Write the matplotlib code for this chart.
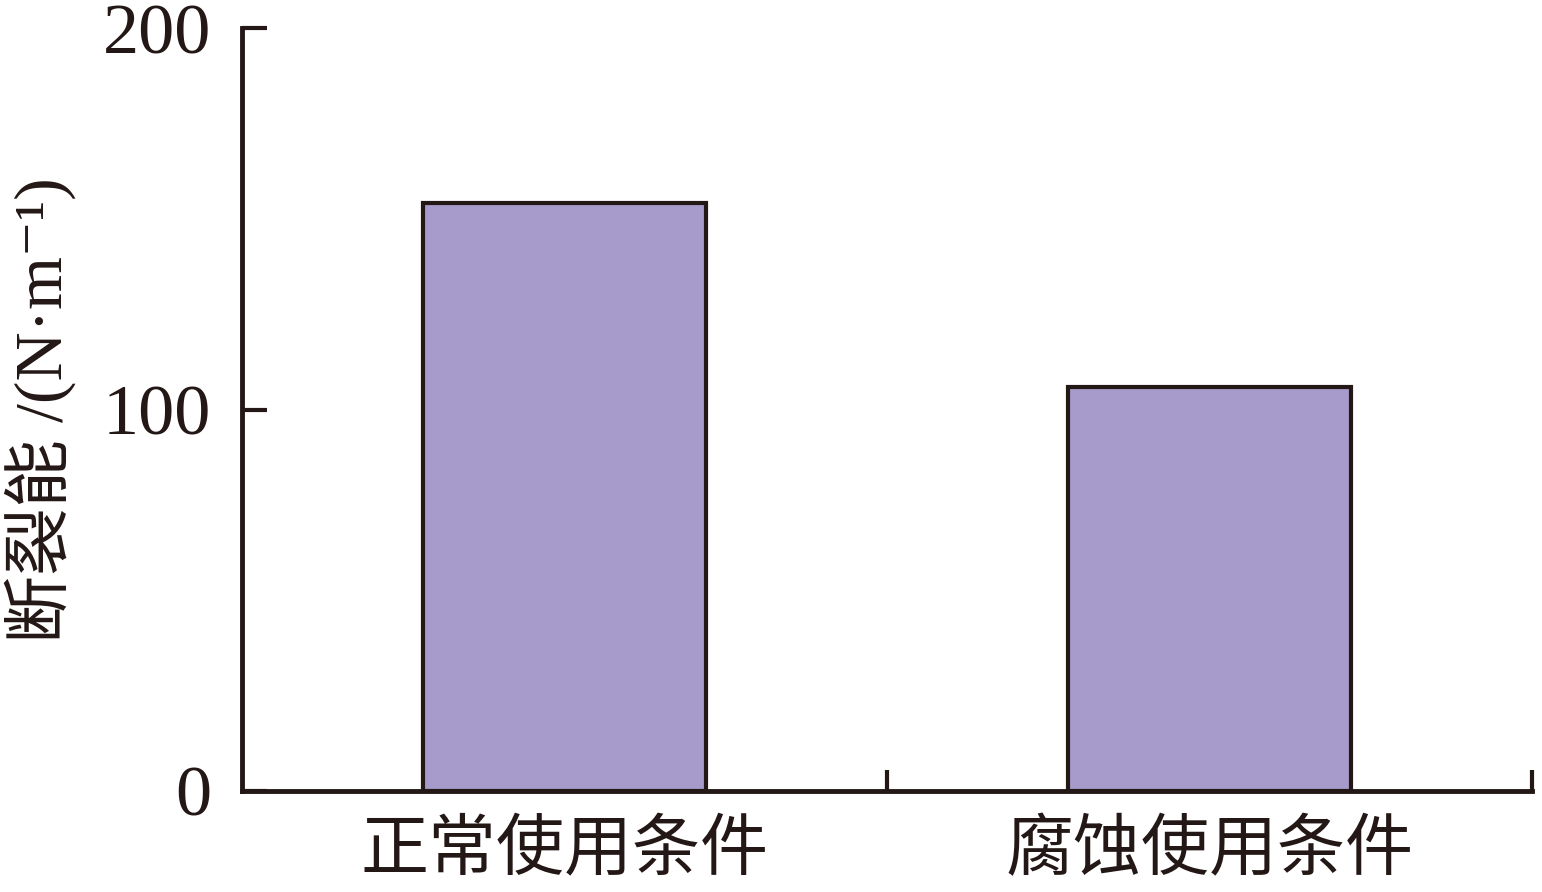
import matplotlib.pyplot as plt
import numpy as np

# 数据
categories = ['正常使用条件', '腐蚀使用条件']
values = [154, 106]
yticks = [0, 100, 200]

plt.rcParams['font.family'] = ['Liberation Serif', 'Noto Sans CJK SC', 'DejaVu Sans']

edge = '#231815'
fig = plt.figure(figsize=(15.42, 8.92), dpi=100)
ax = fig.add_axes([242 / 1542, 1 - 791 / 892, 1290 / 1542, 763 / 892])

x = np.arange(len(categories))
ax.bar(x, values, width=0.44, color='#a69bcb', edgecolor=edge, linewidth=3)

ax.set_xlim(-0.5, 1.5)
ax.set_ylim(0, 200)
ax.set_yticks(yticks)
ax.set_yticklabels([str(v) for v in yticks], fontsize=52, color=edge)
ax.set_xticks(x)
ax.set_xticklabels(categories, fontsize=49, color=edge,
                   family=['Noto Sans CJK SC'])
ax.set_xticks([0.5, 1.5], minor=True)
ax.tick_params(axis='x', which='major', length=0, pad=18)
ax.tick_params(axis='x', which='minor', direction='in', length=15, width=3, color=edge)
ax.tick_params(axis='y', direction='in', length=18, width=3, color=edge, pad=22)

for s in ['top', 'right']:
    ax.spines[s].set_visible(False)
for s in ['left', 'bottom']:
    ax.spines[s].set_linewidth(3.5)
    ax.spines[s].set_color(edge)

fig.text(40 / 1542, 1 - 410 / 892, '断裂能 /(N·m⁻¹)', rotation=90,
         ha='center', va='center', fontsize=49, color=edge)

fig.savefig('out.png', dpi=100)
